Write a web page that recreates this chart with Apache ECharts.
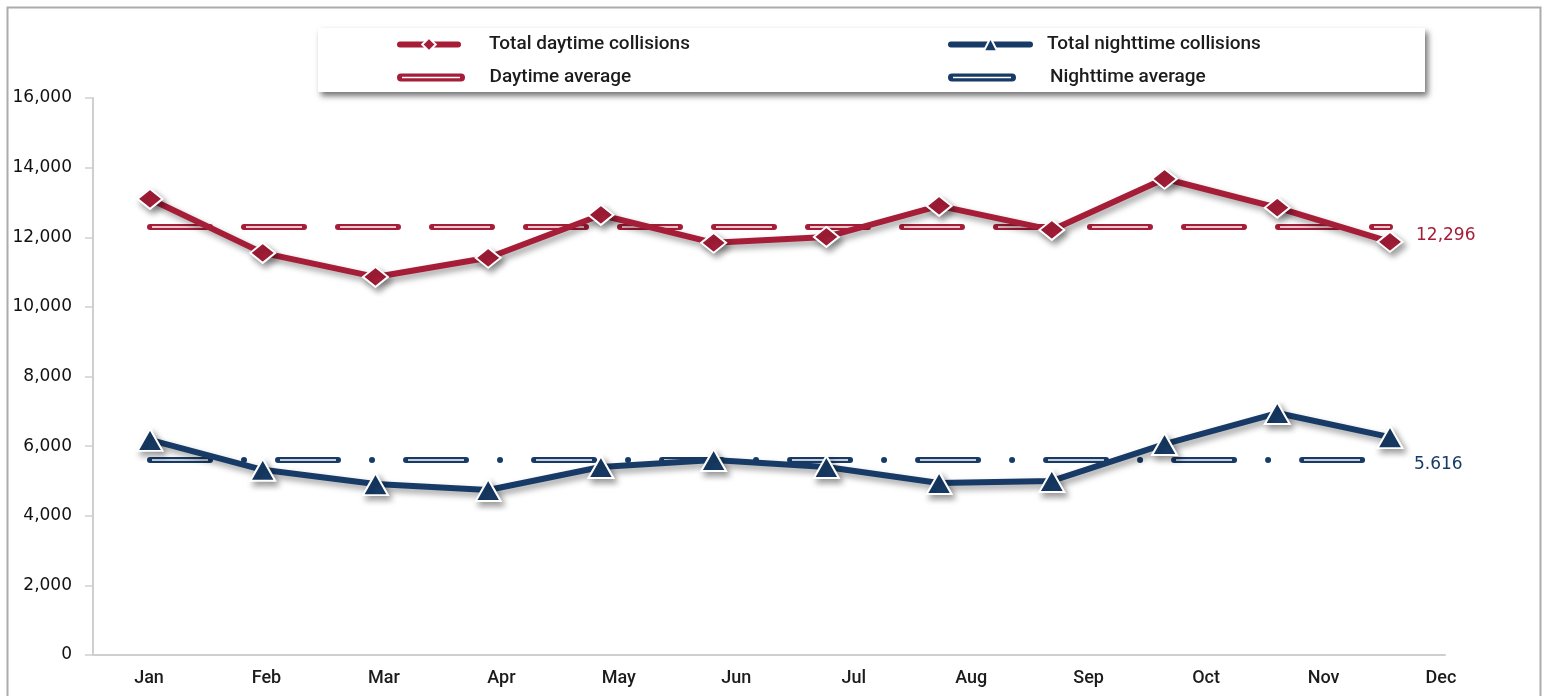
<!DOCTYPE html>
<html>
<head>
<meta charset="utf-8">
<script src="https://cdn.jsdelivr.net/npm/echarts@6/dist/echarts.min.js"></script>
<style>
  html, body { margin: 0; padding: 0; background: #ffffff; }
  #chart { width: 1543px; height: 696px; }
</style>
</head>
<body>
<div id="chart"></div>
<script>
// Monthly collision totals, split by time of day
const months = ['Jan', 'Feb', 'Mar', 'Apr', 'May', 'Jun', 'Jul', 'Aug', 'Sep', 'Oct', 'Nov', 'Dec'];
const daytimeTotals = [13100, 11550, 10860, 11410, 12640, 11840, 12010, 12900, 12210, 13680, 12850, 11870];
const nighttimeTotals = [6180, 5320, 4910, 4740, 5400, 5600, 5400, 4940, 5000, 6060, 6950, 6260];
const daytimeAverage = 12296;
const nighttimeAverage = 5616;
const yMin = 0, yMax = 16000, yStep = 2000;

const RED = '#A61D38';
const NAVY = '#173B66';
const AXIS_GRAY = '#cfcfcf';
const TEXT = '#1c1c1c';

const plotTop = 98, plotBottom = 41;

const shadow = { shadowColor: 'rgba(0,0,0,0.38)', shadowBlur: 6, shadowOffsetX: 3, shadowOffsetY: 4 };

// Average line: thick coloured dashes with a thin white core
function averageLines(value, color, outerDash, innerDash, period, label) {
  const seg = (style) => [
    { coord: [months[0], value], lineStyle: style },
    { coord: [months[months.length - 1], value] }
  ];
  const outer = seg({ color: color, width: 6, type: outerDash, cap: 'round' });
  outer[0].label = label;
  const inner = seg({ color: '#ffffff', width: 1.6, type: innerDash, dashOffset: period - 2, cap: 'butt' });
  inner[0].label = { show: false };
  return [outer, inner];
}

const legendIconAvg = 'path://M4,0 H64 A4,4 0 0 1 64,8 H4 A4,4 0 0 1 4,0 Z M5,3.3 V4.7 H63 V3.3 Z';

const legendCommon = {
  orient: 'horizontal',
  padding: 0,
  selectedMode: false,
  textStyle: { fontFamily: 'Roboto', fontSize: 19, color: TEXT, fontWeight: 500 },
  itemStyle: { shadowBlur: 0, shadowOffsetX: 0, shadowOffsetY: 0 },
  lineStyle: { width: 6, cap: 'round', shadowBlur: 0, shadowOffsetX: 0, shadowOffsetY: 0 }
};

const option = {
  animation: false,
  backgroundColor: '#ffffff',
  graphic: [
    {
      type: 'rect', left: 5, top: 5, z: -10,
      shape: { width: 1533, height: 720 },
      style: { fill: 'none', stroke: '#ababab', lineWidth: 2 }
    },
    {
      type: 'rect', left: 318, top: 28, z: -5,
      shape: { width: 1107, height: 64 },
      style: { fill: '#ffffff', shadowColor: 'rgba(0,0,0,0.55)', shadowBlur: 6, shadowOffsetX: 3, shadowOffsetY: 4 }
    }
  ],
  legend: [
    Object.assign({}, legendCommon, {
      data: ['Total daytime collisions'], left: 397, top: 35,
      itemWidth: 58, itemHeight: 17,
      textStyle: Object.assign({}, legendCommon.textStyle, { padding: [0, 0, 0, 26] })
    }),
    Object.assign({}, legendCommon, {
      data: ['Total nighttime collisions'], left: 948, top: 35,
      itemWidth: 79, itemHeight: 17,
      textStyle: Object.assign({}, legendCommon.textStyle, { padding: [0, 0, 0, 12] })
    }),
    Object.assign({}, legendCommon, {
      data: [{ name: 'Daytime average', icon: legendIconAvg }], left: 397, top: 68,
      itemWidth: 69, itemHeight: 8,
      textStyle: Object.assign({}, legendCommon.textStyle, { padding: [0, 0, 0, 19] })
    }),
    Object.assign({}, legendCommon, {
      data: [{ name: 'Nighttime average', icon: legendIconAvg }], left: 948, top: 68,
      itemWidth: 68, itemHeight: 8,
      textStyle: Object.assign({}, legendCommon.textStyle, { padding: [0, 0, 0, 29] })
    })
  ],
  grid: [
    // plotted data
    { left: 150, right: 153, top: plotTop, bottom: plotBottom },
    // axis frame
    { left: 93, right: 98, top: plotTop, bottom: plotBottom },
    // month labels
    { left: 149, right: 102, top: plotTop, bottom: plotBottom }
  ],
  xAxis: [
    { gridIndex: 0, type: 'category', data: months, boundaryGap: false, show: false },
    {
      gridIndex: 1, type: 'category', data: months, boundaryGap: false,
      axisLine: { show: true, lineStyle: { color: AXIS_GRAY, width: 2 } },
      axisTick: { show: false }, axisLabel: { show: false }, splitLine: { show: false }
    },
    {
      gridIndex: 2, type: 'category', data: months, boundaryGap: false,
      axisLine: { show: false }, axisTick: { show: false }, splitLine: { show: false },
      axisLabel: {
        show: true, interval: 0, margin: 14,
        fontFamily: 'Roboto', fontSize: 18, fontWeight: 500, color: TEXT
      }
    }
  ],
  yAxis: [
    { gridIndex: 0, type: 'value', min: yMin, max: yMax, interval: yStep, show: false },
    {
      gridIndex: 1, type: 'value', min: yMin, max: yMax, interval: yStep,
      axisLine: { show: true, lineStyle: { color: AXIS_GRAY, width: 2 } },
      axisTick: { show: true, length: 8, lineStyle: { color: AXIS_GRAY, width: 1.5 } },
      splitLine: { show: false },
      axisLabel: {
        margin: 21, fontFamily: 'DejaVu Sans', fontSize: 17, color: '#111111',
        formatter: (v) => v.toLocaleString('en-US')
      }
    },
    { gridIndex: 2, type: 'value', min: yMin, max: yMax, interval: yStep, show: false }
  ],
  series: [
    {
      name: 'Daytime average', type: 'line', xAxisIndex: 0, yAxisIndex: 0,
      data: [], color: RED, itemStyle: { color: RED }, z: 2,
      markLine: {
        silent: true, symbol: ['none', 'none'], animation: false,
        data: averageLines(daytimeAverage, RED, [60, 34], [56, 38], 94, {
          show: true, position: 'end', distance: 26,
          lineHeight: 18,
          fontFamily: 'DejaVu Sans', fontSize: 17, color: RED,
          // blank first line drops the value slightly below the line
          formatter: () => ' \n' + daytimeAverage.toLocaleString('en-US')
        })
      }
    },
    {
      name: 'Nighttime average', type: 'line', xAxisIndex: 0, yAxisIndex: 0,
      data: [], color: NAVY, itemStyle: { color: NAVY }, z: 2,
      markLine: {
        silent: true, symbol: ['none', 'none'], animation: false,
        data: averageLines(nighttimeAverage, NAVY, [60, 34, 0.01, 34], [56, 72], 128, {
          show: true, position: 'end', distance: 24,
          lineHeight: 10,
          fontFamily: 'DejaVu Sans', fontSize: 17, color: NAVY,
          formatter: () => ' \n' + nighttimeAverage.toLocaleString('de-DE')
        })
      }
    },
    {
      name: 'Total daytime collisions', type: 'line', xAxisIndex: 0, yAxisIndex: 0,
      data: daytimeTotals, color: RED, z: 5,
      symbol: 'diamond', symbolSize: [25, 20], showAllSymbol: true,
      lineStyle: Object.assign({ color: RED, width: 6, join: 'round', cap: 'round' }, shadow),
      itemStyle: Object.assign({ color: RED, borderColor: '#ffffff', borderWidth: 2 }, shadow)
    },
    {
      name: 'Total nighttime collisions', type: 'line', xAxisIndex: 0, yAxisIndex: 0,
      data: nighttimeTotals, color: NAVY, z: 5,
      symbol: 'triangle', symbolSize: [25, 22], showAllSymbol: true,
      lineStyle: Object.assign({ color: NAVY, width: 6, join: 'round', cap: 'round' }, shadow),
      itemStyle: Object.assign({ color: NAVY, borderColor: '#ffffff', borderWidth: 2 }, shadow)
    }
  ]
};

const chart = echarts.init(document.getElementById('chart'), null, { renderer: 'canvas' });
chart.setOption(option);
</script>
</body>
</html>
